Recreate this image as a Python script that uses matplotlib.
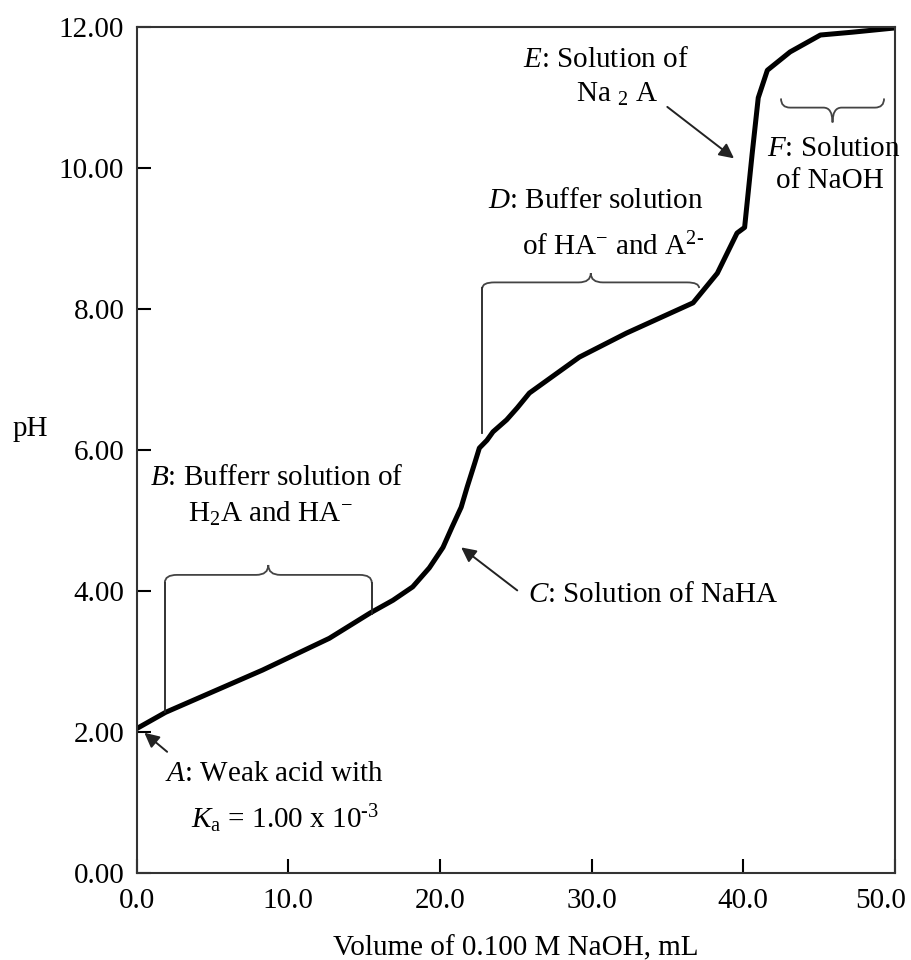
import matplotlib
matplotlib.use("Agg")
import matplotlib.pyplot as plt
import matplotlib.transforms as mtransforms
from matplotlib.path import Path
from matplotlib.patches import PathPatch

plt.rcParams['font.family'] = ['Liberation Serif', 'DejaVu Serif']
plt.rcParams['mathtext.fontset'] = 'custom'
plt.rcParams['mathtext.rm'] = 'Liberation Serif'
plt.rcParams['mathtext.it'] = 'Liberation Serif:italic'
plt.rcParams['mathtext.bf'] = 'Liberation Serif:bold'

# Titration curve
volume = [0.0, 1.9, 8.3, 12.7, 15.4, 16.9, 18.2, 19.3, 20.2, 20.8, 21.4, 21.8,
          22.3, 22.6, 23.1, 23.5, 24.4, 25.1, 25.9, 29.2, 32.3, 36.7, 38.3,
          39.6, 40.1, 40.6, 41.0, 41.6, 43.1, 45.1, 47.2, 50.0]
ph = [2.05, 2.28, 2.88, 3.33, 3.69, 3.87, 4.06, 4.33, 4.62, 4.91, 5.19, 5.48,
      5.82, 6.03, 6.14, 6.26, 6.43, 6.60, 6.81, 7.32, 7.66, 8.09, 8.51,
      9.08, 9.16, 10.21, 11.00, 11.39, 11.65, 11.89, 11.93, 11.99]

x_ticks = [0, 10, 20, 30, 40, 50]
y_ticks = [0, 2, 4, 6, 8, 10, 12]

# Braces: (left, right, level, tip, curl, radius)
brace_b = (1.85, 15.5, 4.23, 0.14, 0.11, 0.8)
brace_d = (22.8, 37.1, 8.38, 0.13, 0.08, 0.8)
brace_f = (42.5, 49.3, 10.86, -0.21, -0.13, 0.6)

# Vertical connectors from the brace ends down to the curve: (x, top, bottom)
connectors = [(1.85, 4.12, 2.28), (15.5, 4.12, 3.68), (22.8, 8.30, 6.24)]


def draw_brace(ax, x0, x1, y, tip, curl, r):
    xm = (x0 + x1) / 2
    verts = [(x0, y - curl), (x0, y), (x0 + r, y), (xm - r, y), (xm, y),
             (xm, y + tip), (xm, y), (xm + r, y), (x1 - r, y), (x1, y),
             (x1, y - curl)]
    codes = [Path.MOVETO, Path.CURVE3, Path.CURVE3, Path.LINETO, Path.CURVE3,
             Path.CURVE3, Path.CURVE3, Path.CURVE3, Path.LINETO, Path.CURVE3,
             Path.CURVE3]
    ax.add_patch(PathPatch(Path(verts, codes), fill=False, edgecolor='#444444',
                           lw=1.3))


fig = plt.figure(figsize=(9.12, 9.6), dpi=100)
ax = fig.add_axes([0.150, 0.0906, 0.831, 0.881])

ax.plot(volume, ph, color='black', lw=3.6, solid_capstyle='butt',
        solid_joinstyle='round')

for b in (brace_b, brace_d, brace_f):
    draw_brace(ax, *b)
for x, top, bottom in connectors:
    ax.plot([x, x], [top, bottom], color='#222222', lw=1.3)

fs = 21

ax.set_xlim(0, 50)
ax.set_ylim(0, 12)
ax.set_xticks(x_ticks)
ax.set_yticks(y_ticks)
ax.set_xticklabels([f"{v:.1f}" for v in x_ticks])
ax.set_yticklabels([f"{v:.2f}" for v in y_ticks])
ax.tick_params(direction='in', length=10, width=1.5, labelsize=fs,
               colors='black')
ax.tick_params(axis='x', pad=11)
ax.tick_params(axis='y', pad=9)
for s in ax.spines.values():
    s.set_linewidth(1.5)
    s.set_color('#333333')

# last x label sits a little left so it stays inside the picture
last = ax.get_xticklabels()[-1]
last.set_transform(last.get_transform() +
                   mtransforms.ScaledTranslation(-0.14, 0, fig.dpi_scale_trans))

ax.set_xlabel("Volume of 0.100 M NaOH, mL", fontsize=fs, labelpad=15)
ax.set_ylabel("pH", fontsize=fs, rotation=0)
ax.yaxis.set_label_coords(-0.14, 0.51)

arrow = dict(arrowstyle='-|>', color='#222222', lw=1.4, mutation_scale=22,
             shrinkA=0, shrinkB=0)

# A
ax.annotate("", xy=(0.5, 1.99), xytext=(2.0, 1.72), arrowprops=arrow)
ax.text(1.85, 1.3, r"$\mathit{A}$: Weak acid with", fontsize=fs,
        va='baseline')
ax.text(3.6, 0.64, r"$\mathit{K}_{\mathrm{a}}$ = 1.00 x 10$^{\text{-3}}$",
        fontsize=fs, va='baseline')

# B
ax.text(0.86, 5.50, r"$\mathit{B}$: Bufferr solution of", fontsize=fs,
        va='baseline')
ax.text(3.36, 4.98, r"H$_2$A and HA$^{-}$", fontsize=fs, va='baseline')

# C
ax.annotate("", xy=(21.4, 4.62), xytext=(25.1, 4.01), arrowprops=arrow)
ax.text(25.8, 3.84, r"$\mathit{C}$: Solution of NaHA", fontsize=fs,
        va='baseline')

# D
ax.text(23.15, 9.43, r"$\mathit{D}$: Buffer solution", fontsize=fs,
        va='baseline')
ax.text(25.4, 8.77, r"of HA$^{-}$ and A$^{\text{2-}}$", fontsize=fs,
        va='baseline')

# E
ax.annotate("", xy=(39.4, 10.14), xytext=(35.0, 10.87), arrowprops=arrow)
ax.text(25.5, 11.43, r"$\mathit{E}$: Solution of", fontsize=fs,
        va='baseline')
ax.text(29.0, 10.94, r"Na $_2$ A", fontsize=fs, va='baseline')

# F
ax.text(41.6, 10.18, r"$\mathit{F}$: Solution", fontsize=fs, va='baseline')
ax.text(42.2, 9.72, "of NaOH", fontsize=fs, va='baseline')

fig.savefig("out.png", dpi=100)
